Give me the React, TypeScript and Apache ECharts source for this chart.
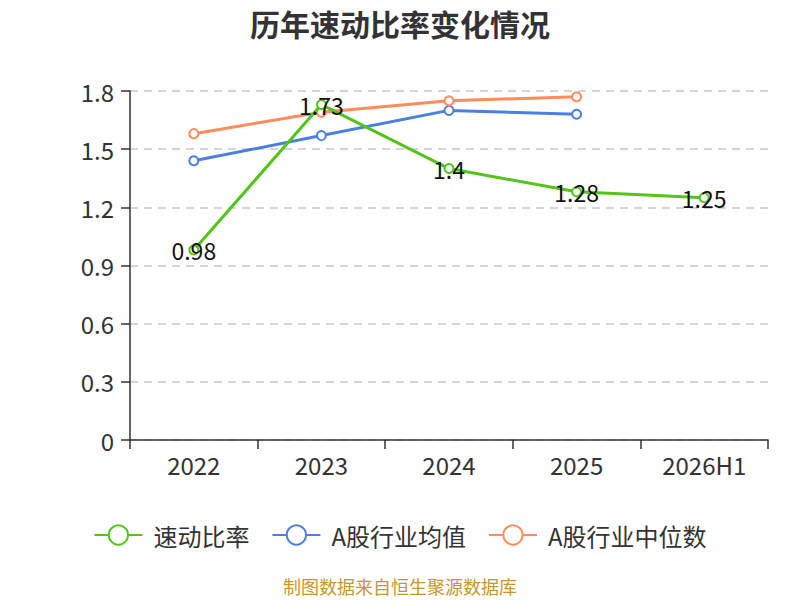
import React, { useEffect, useRef } from "react";
import * as echarts from "echarts";

const categories = ["2022", "2023", "2024", "2025", "2026H1"];
const quickRatio = [0.98, 1.73, 1.4, 1.28, 1.25];
const industryMean = [1.44, 1.57, 1.7, 1.68];
const industryMedian = [1.58, 1.69, 1.75, 1.77];
const yTicks = { min: 0, max: 1.8, interval: 0.3 };

const FONT = "'Noto Sans CJK SC', 'Noto Sans', sans-serif";

export default function App() {
  const ref = useRef<HTMLDivElement>(null);
  useEffect(() => {
    if (!ref.current) return;
    const chart = echarts.init(ref.current, undefined, { renderer: "svg" });
    chart.setOption({
      animation: false,
      textStyle: { fontFamily: FONT },
      title: {
        text: "历年速动比率变化情况",
        left: "center",
        top: 3,
        textStyle: { fontSize: 30, fontWeight: "bold", color: "#333", fontFamily: FONT },
      },
      grid: { left: 130, right: 32, top: 91, bottom: 160 },
      legend: {
        top: 518,
        left: "center",
        itemWidth: 48,
        itemHeight: 24,
        itemGap: 22,
        textStyle: { fontSize: 24, color: "#333", fontFamily: FONT, padding: [0, 0, 0, 6] },
        data: ["速动比率", "A股行业均值", "A股行业中位数"],
      },
      graphic: [
        {
          type: "text",
          left: "center",
          top: 577,
          style: { text: "制图数据来自恒生聚源数据库", fill: "#c9962d", fontSize: 18, fontFamily: FONT },
        },
      ],
      xAxis: {
        type: "category",
        data: categories,
        axisLine: { lineStyle: { color: "#333", width: 1.5 } },
        axisTick: { show: true, length: 9, lineStyle: { color: "#333", width: 1.5 } },
        axisLabel: { fontSize: 24, color: "#333", margin: 12, fontFamily: FONT },
      },
      yAxis: {
        type: "value",
        min: yTicks.min,
        max: yTicks.max,
        interval: yTicks.interval,
        axisLine: { show: true, lineStyle: { color: "#333", width: 1.5 } },
        axisTick: { show: true, length: 9, lineStyle: { color: "#333", width: 1.5 } },
        axisLabel: { fontSize: 24, color: "#333", margin: 16, fontFamily: FONT },
        splitLine: { lineStyle: { type: [8, 6], color: "#c8c8c8", width: 1.5 } },
      },
      series: [
        {
          name: "速动比率",
          type: "line",
          data: quickRatio,
          symbol: "emptyCircle",
          symbolSize: 9,
          color: "#52c41a",
          lineStyle: { width: 3 },
          label: {
            show: true,
            position: "inside",
            fontSize: 23,
            color: "#111",
            fontFamily: FONT,
          },
          z: 3,
        },
        {
          name: "A股行业均值",
          type: "line",
          data: industryMean,
          symbol: "emptyCircle",
          symbolSize: 9,
          color: "#4c80e0",
          lineStyle: { width: 3 },
          z: 2,
        },
        {
          name: "A股行业中位数",
          type: "line",
          data: industryMedian,
          symbol: "emptyCircle",
          symbolSize: 9,
          color: "#ff8c5a",
          lineStyle: { width: 3 },
          z: 2,
        },
      ],
    });
    return () => chart.dispose();
  }, []);
  return (
    <div
      ref={ref}
      style={{ position: "absolute", left: 0, top: 0, width: 800, height: 600 }}
    />
  );
}
